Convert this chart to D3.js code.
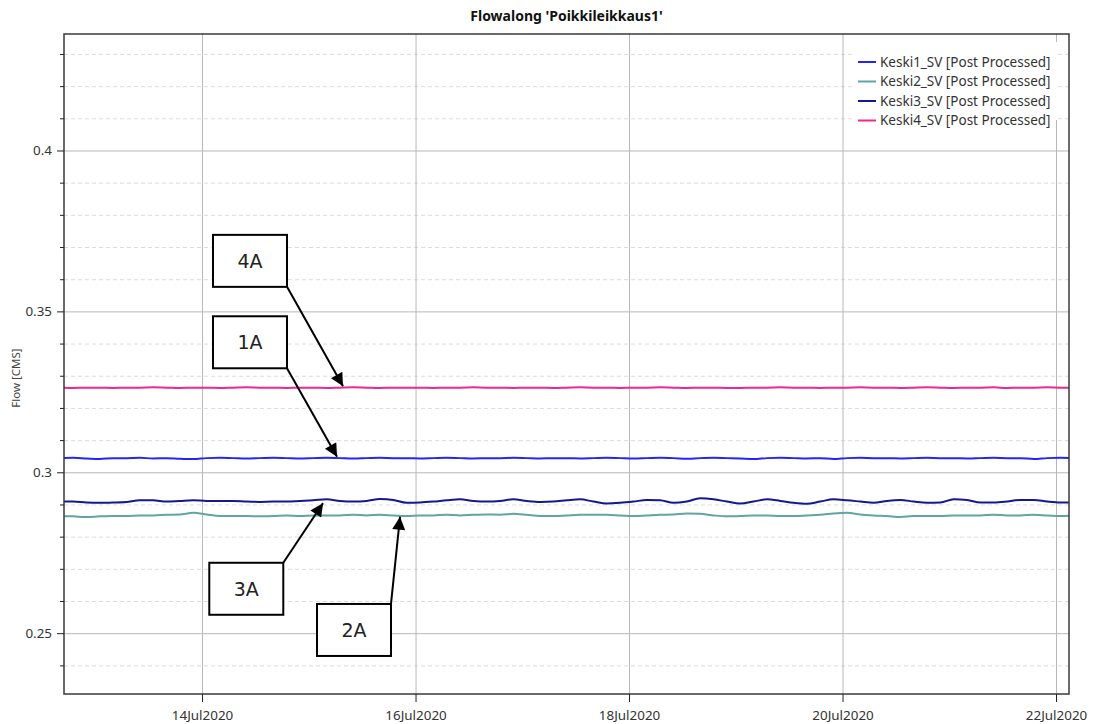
<!DOCTYPE html>
<html>
<head>
<meta charset="utf-8">
<script src="https://cdn.jsdelivr.net/npm/d3@7"></script>
<style>
  body { margin: 0; background: #fff; }
  .tick text { font-family: "Noto Sans", sans-serif; font-size: 13.4px; fill: #333; }
  .grid-major line { stroke: #b8b8b8; }
  .grid-minor line { stroke: #dcdcdc; stroke-dasharray: 4,3; }
  .grid .domain { display: none; }
</style>
</head>
<body>
<div id="chart"></div>
<script>
// sampling grid of the series: every 3 hours from the start time
const startTime = "2020-07-12T16:00:00Z";
const stepHours = 3;

const seriesNames = [
  "Keski1_SV [Post Processed]",
  "Keski2_SV [Post Processed]",
  "Keski3_SV [Post Processed]",
  "Keski4_SV [Post Processed]"
];

const keski1 = [
  0.3044,0.3045,0.3043,0.3041,0.3044,0.3044,0.3045,0.3043,0.3044,0.3042,
  0.3041,0.3044,0.3045,0.3044,0.3043,0.3044,0.3045,0.3044,0.3043,0.3044,
  0.3045,0.3044,0.3043,0.3044,0.3045,0.3044,0.3044,0.3043,0.3044,0.3045,
  0.3044,0.3043,0.3044,0.3044,0.3045,0.3044,0.3043,0.3044,0.3044,0.3043,
  0.3044,0.3045,0.3044,0.3043,0.3044,0.3045,0.3044,0.3042,0.3044,0.3045,
  0.3044,0.3043,0.3041,0.3044,0.3045,0.3044,0.3043,0.3044,0.3041,0.3044,
  0.3045,0.3044,0.3044,0.3043,0.3044,0.3045,0.3044,0.3044,0.3043,0.3044,
  0.3045,0.3044,0.3044,0.3041,0.3044,0.3045,0.3044
];

const keski2 = [
  0.2864,0.2863,0.2861,0.2863,0.2864,0.2864,0.2866,0.2866,0.2868,0.2869,
  0.2874,0.2869,0.2864,0.2864,0.2864,0.2863,0.2864,0.2866,0.2864,0.2866,
  0.2866,0.2866,0.2868,0.2866,0.2868,0.2866,0.2864,0.2866,0.2866,0.2868,
  0.2866,0.2868,0.2869,0.2868,0.2871,0.2868,0.2864,0.2864,0.2866,0.2868,
  0.2868,0.2868,0.2866,0.2864,0.2866,0.2868,0.2869,0.2872,0.2871,0.2866,
  0.2863,0.2864,0.2866,0.2866,0.2864,0.2864,0.2866,0.2868,0.2872,0.2874,
  0.2869,0.2866,0.2864,0.2861,0.2864,0.2864,0.2864,0.2866,0.2866,0.2866,
  0.2868,0.2866,0.2866,0.2868,0.2866,0.2864,0.2866
];

const keski3 = [
  0.2909,0.2909,0.2906,0.2905,0.2906,0.2908,0.2913,0.2913,0.2909,0.2911,
  0.2913,0.2911,0.2911,0.2911,0.2909,0.2908,0.2909,0.2909,0.2911,0.2913,
  0.2916,0.2911,0.2909,0.2911,0.2917,0.2914,0.2905,0.2906,0.2909,0.2913,
  0.2916,0.2911,0.2909,0.2911,0.2916,0.2911,0.2908,0.2909,0.2913,0.2916,
  0.2909,0.2903,0.2905,0.2909,0.2914,0.2913,0.2905,0.2909,0.2919,0.2916,
  0.2909,0.2903,0.2909,0.2916,0.2911,0.2905,0.2902,0.2909,0.2916,0.2913,
  0.2909,0.2905,0.2911,0.2914,0.2909,0.2905,0.2906,0.2916,0.2914,0.2906,
  0.2906,0.2909,0.2914,0.2914,0.2909,0.2906,0.2906
];

const keski4 = [
  0.3263,0.3262,0.3263,0.3263,0.3262,0.3263,0.3263,0.3264,0.3263,0.3262,
  0.3263,0.3263,0.3262,0.3263,0.3264,0.3263,0.3263,0.3262,0.3263,0.3263,
  0.3262,0.3263,0.3264,0.3263,0.3262,0.3263,0.3263,0.3263,0.3262,0.3263,
  0.3263,0.3264,0.3263,0.3263,0.3262,0.3263,0.3263,0.3262,0.3263,0.3264,
  0.3263,0.3263,0.3262,0.3263,0.3263,0.3264,0.3263,0.3262,0.3263,0.3263,
  0.3262,0.3262,0.3263,0.3263,0.3264,0.3263,0.3263,0.3262,0.3263,0.3263,
  0.3264,0.3263,0.3263,0.3262,0.3263,0.3264,0.3263,0.3262,0.3263,0.3263,
  0.3264,0.3262,0.3263,0.3263,0.3264,0.3263,0.3263
];

const seriesColors = ["#2424ff", "#62a4a4", "#16168e", "#f0288e"];

// axis extents and ticks
const xDomain = ["2020-07-12T16:58:00Z", "2020-07-22T02:55:00Z"];
const xTickDates = ["2020-07-14", "2020-07-16", "2020-07-18", "2020-07-20", "2020-07-22"];
const yDomain = [0.2311, 0.4362];
const yMajorTicks = [0.25, 0.3, 0.35, 0.4];
const yMinorTicks = [0.24, 0.26, 0.27, 0.28, 0.29, 0.31, 0.32, 0.33, 0.34, 0.36, 0.37, 0.38, 0.39, 0.41, 0.42, 0.43];

// callouts: box centre and arrow tip, both in data coordinates
const callouts = [
  { label: "4A", boxTime: "2020-07-14T10:47:00Z", boxValue: 0.3657, tipTime: "2020-07-15T07:42:00Z", tipValue: 0.3267, corner: "br" },
  { label: "1A", boxTime: "2020-07-14T10:47:00Z", boxValue: 0.3404, tipTime: "2020-07-15T06:21:00Z", tipValue: 0.3048, corner: "br" },
  { label: "3A", boxTime: "2020-07-14T09:57:00Z", boxValue: 0.2638, tipTime: "2020-07-15T03:12:00Z", tipValue: 0.2904, corner: "tr" },
  { label: "2A", boxTime: "2020-07-15T10:10:00Z", boxValue: 0.2510, tipTime: "2020-07-15T20:31:00Z", tipValue: 0.2862, corner: "tr" }
];

class LineChart {
  constructor(_config) {
    this.config = {
      parentElement: _config.parentElement,
      containerWidth: _config.containerWidth || 1099,
      containerHeight: _config.containerHeight || 724,
      margin: { top: 34, right: 30, bottom: 30, left: 64 }
    };
    this.data = [];
    this.initVis();
  }

  setData(data) {
    this.data = data;
    this.updateVis();
  }

  initVis() {
    const vis = this;
    vis.width = vis.config.containerWidth - vis.config.margin.left - vis.config.margin.right;
    vis.height = vis.config.containerHeight - vis.config.margin.top - vis.config.margin.bottom;

    vis.root = d3.select(vis.config.parentElement).append("svg")
      .attr("width", vis.config.containerWidth)
      .attr("height", vis.config.containerHeight);

    vis.svg = vis.root.append("g")
      .attr("transform", `translate(${vis.config.margin.left}, ${vis.config.margin.top})`);

    vis.xScale = d3.scaleUtc().domain(xDomain.map(d => new Date(d))).range([0, vis.width]);
    vis.yScale = d3.scaleLinear().domain(yDomain).range([vis.height, 0]);

    vis.root.append("defs").append("clipPath").attr("id", "plot-clip")
      .append("rect").attr("width", vis.width).attr("height", vis.height);

    vis.root.append("defs").append("marker")
      .attr("id", "arrowhead")
      .attr("viewBox", "0 0 10 10")
      .attr("refX", 10).attr("refY", 5)
      .attr("markerUnits", "userSpaceOnUse")
      .attr("markerWidth", 16).attr("markerHeight", 13)
      .attr("orient", "auto")
      .append("path").attr("d", "M0,0L10,5L0,10Z").attr("fill", "#000");
  }

  updateVis() {
    this.renderVis();
  }

  renderVis() {
    const vis = this;
    const x = vis.xScale, y = vis.yScale;

    // grid lines
    vis.svg.append("g").attr("class", "grid grid-minor")
      .call(d3.axisLeft(y).tickValues(yMinorTicks).tickSize(-vis.width).tickFormat(""));
    vis.svg.append("g").attr("class", "grid grid-major")
      .call(d3.axisLeft(y).tickValues(yMajorTicks).tickSize(-vis.width).tickFormat(""));
    vis.svg.append("g").attr("class", "grid grid-major")
      .attr("transform", `translate(0, ${vis.height})`)
      .call(d3.axisBottom(x).tickValues(xTickDates.map(d => new Date(d))).tickSize(-vis.height).tickFormat(""));

    // series
    const line = d3.line()
      .x(d => x(d.time))
      .y(d => y(d.value))
      .curve(d3.curveMonotoneX);

    vis.svg.append("g").attr("clip-path", "url(#plot-clip)")
      .selectAll(".series")
      .data(vis.data)
      .join("path")
      .attr("class", "series")
      .attr("fill", "none")
      .attr("stroke", d => d.color)
      .attr("stroke-width", 2)
      .attr("stroke-linejoin", "round")
      .attr("d", d => line(d.values));

    // frame
    vis.svg.append("rect")
      .attr("width", vis.width).attr("height", vis.height)
      .attr("fill", "none").attr("stroke", "#3a3a3a").attr("stroke-width", 1.5);

    // axes
    const yAxisMinor = vis.svg.append("g")
      .call(d3.axisLeft(y).tickValues(yMinorTicks).tickSize(4).tickFormat(""));
    yAxisMinor.select(".domain").remove();
    yAxisMinor.selectAll("line").attr("stroke", "#222");

    const yAxis = vis.svg.append("g")
      .call(d3.axisLeft(y).tickValues(yMajorTicks).tickSize(7).tickPadding(5).tickFormat(d3.format("")));
    yAxis.select(".domain").remove();
    yAxis.selectAll("line").attr("stroke", "#222");

    const xAxis = vis.svg.append("g")
      .attr("transform", `translate(0, ${vis.height})`)
      .call(d3.axisBottom(x).tickValues(xTickDates.map(d => new Date(d)))
        .tickSize(8).tickPadding(8).tickFormat(d3.utcFormat("%d%b%Y")));
    xAxis.select(".domain").remove();
    xAxis.selectAll("line").attr("stroke", "#222");

    // title and axis label
    vis.svg.append("text")
      .attr("x", vis.width / 2).attr("y", -13)
      .attr("text-anchor", "middle")
      .style("font-family", "'Noto Sans', sans-serif")
      .style("font-size", "14px").style("font-weight", "bold").style("fill", "#111")
      .text("Flowalong 'Poikkileikkaus1'");

    vis.root.append("text")
      .attr("transform", `translate(20, ${vis.config.margin.top + vis.height / 2 + 14}) rotate(-90)`)
      .attr("text-anchor", "middle")
      .style("font-family", "'Noto Sans', sans-serif")
      .style("font-size", "11.5px").style("fill", "#444")
      .text("Flow [CMS]");

    // legend
    const legend = vis.svg.append("g").attr("transform", `translate(${vis.width - 211}, 18)`);
    legend.append("rect")
      .attr("x", -6).attr("y", -10).attr("width", 205).attr("height", 78)
      .attr("fill", "#fff");
    const items = legend.selectAll(".legend-item")
      .data(vis.data)
      .join("g")
      .attr("class", "legend-item")
      .attr("transform", (d, i) => `translate(0, ${10 + i * 19.5})`);
    items.append("line")
      .attr("x1", 0).attr("x2", 18)
      .attr("stroke", d => d.color).attr("stroke-width", 2);
    items.append("text")
      .attr("x", 22).attr("dy", "0.35em")
      .style("font-family", "'Noto Sans', sans-serif")
      .style("font-size", "13.5px").style("fill", "#333")
      .text(d => d.name);

    // callouts
    const boxW = 74, boxH = 52;
    const notes = vis.svg.selectAll(".callout")
      .data(callouts)
      .join("g")
      .attr("class", "callout");
    notes.append("line")
      .attr("x1", d => x(new Date(d.boxTime)) + boxW / 2)
      .attr("y1", d => y(d.boxValue) + (d.corner === "br" ? boxH / 2 : -boxH / 2))
      .attr("x2", d => x(new Date(d.tipTime)))
      .attr("y2", d => y(d.tipValue))
      .attr("stroke", "#000").attr("stroke-width", 2)
      .attr("marker-end", "url(#arrowhead)");
    notes.append("rect")
      .attr("x", d => x(new Date(d.boxTime)) - boxW / 2)
      .attr("y", d => y(d.boxValue) - boxH / 2)
      .attr("width", boxW).attr("height", boxH)
      .attr("fill", "#fff").attr("stroke", "#000").attr("stroke-width", 2);
    notes.append("text")
      .attr("x", d => x(new Date(d.boxTime)))
      .attr("y", d => y(d.boxValue))
      .attr("dy", "0.36em")
      .attr("text-anchor", "middle")
      .style("font-family", "'DejaVu Sans', sans-serif")
      .style("font-size", "19px").style("fill", "#222")
      .text(d => d.label);
  }
}

const t0 = new Date(startTime);
const toPoints = vals => vals.map((v, i) => ({ time: new Date(t0.getTime() + i * stepHours * 3600e3), value: v }));

const chart = new LineChart({ parentElement: "#chart", containerWidth: 1099, containerHeight: 724 });
chart.setData([keski1, keski2, keski3, keski4].map((vals, i) => ({
  name: seriesNames[i],
  color: seriesColors[i],
  values: toPoints(vals)
})));
</script>
</body>
</html>
